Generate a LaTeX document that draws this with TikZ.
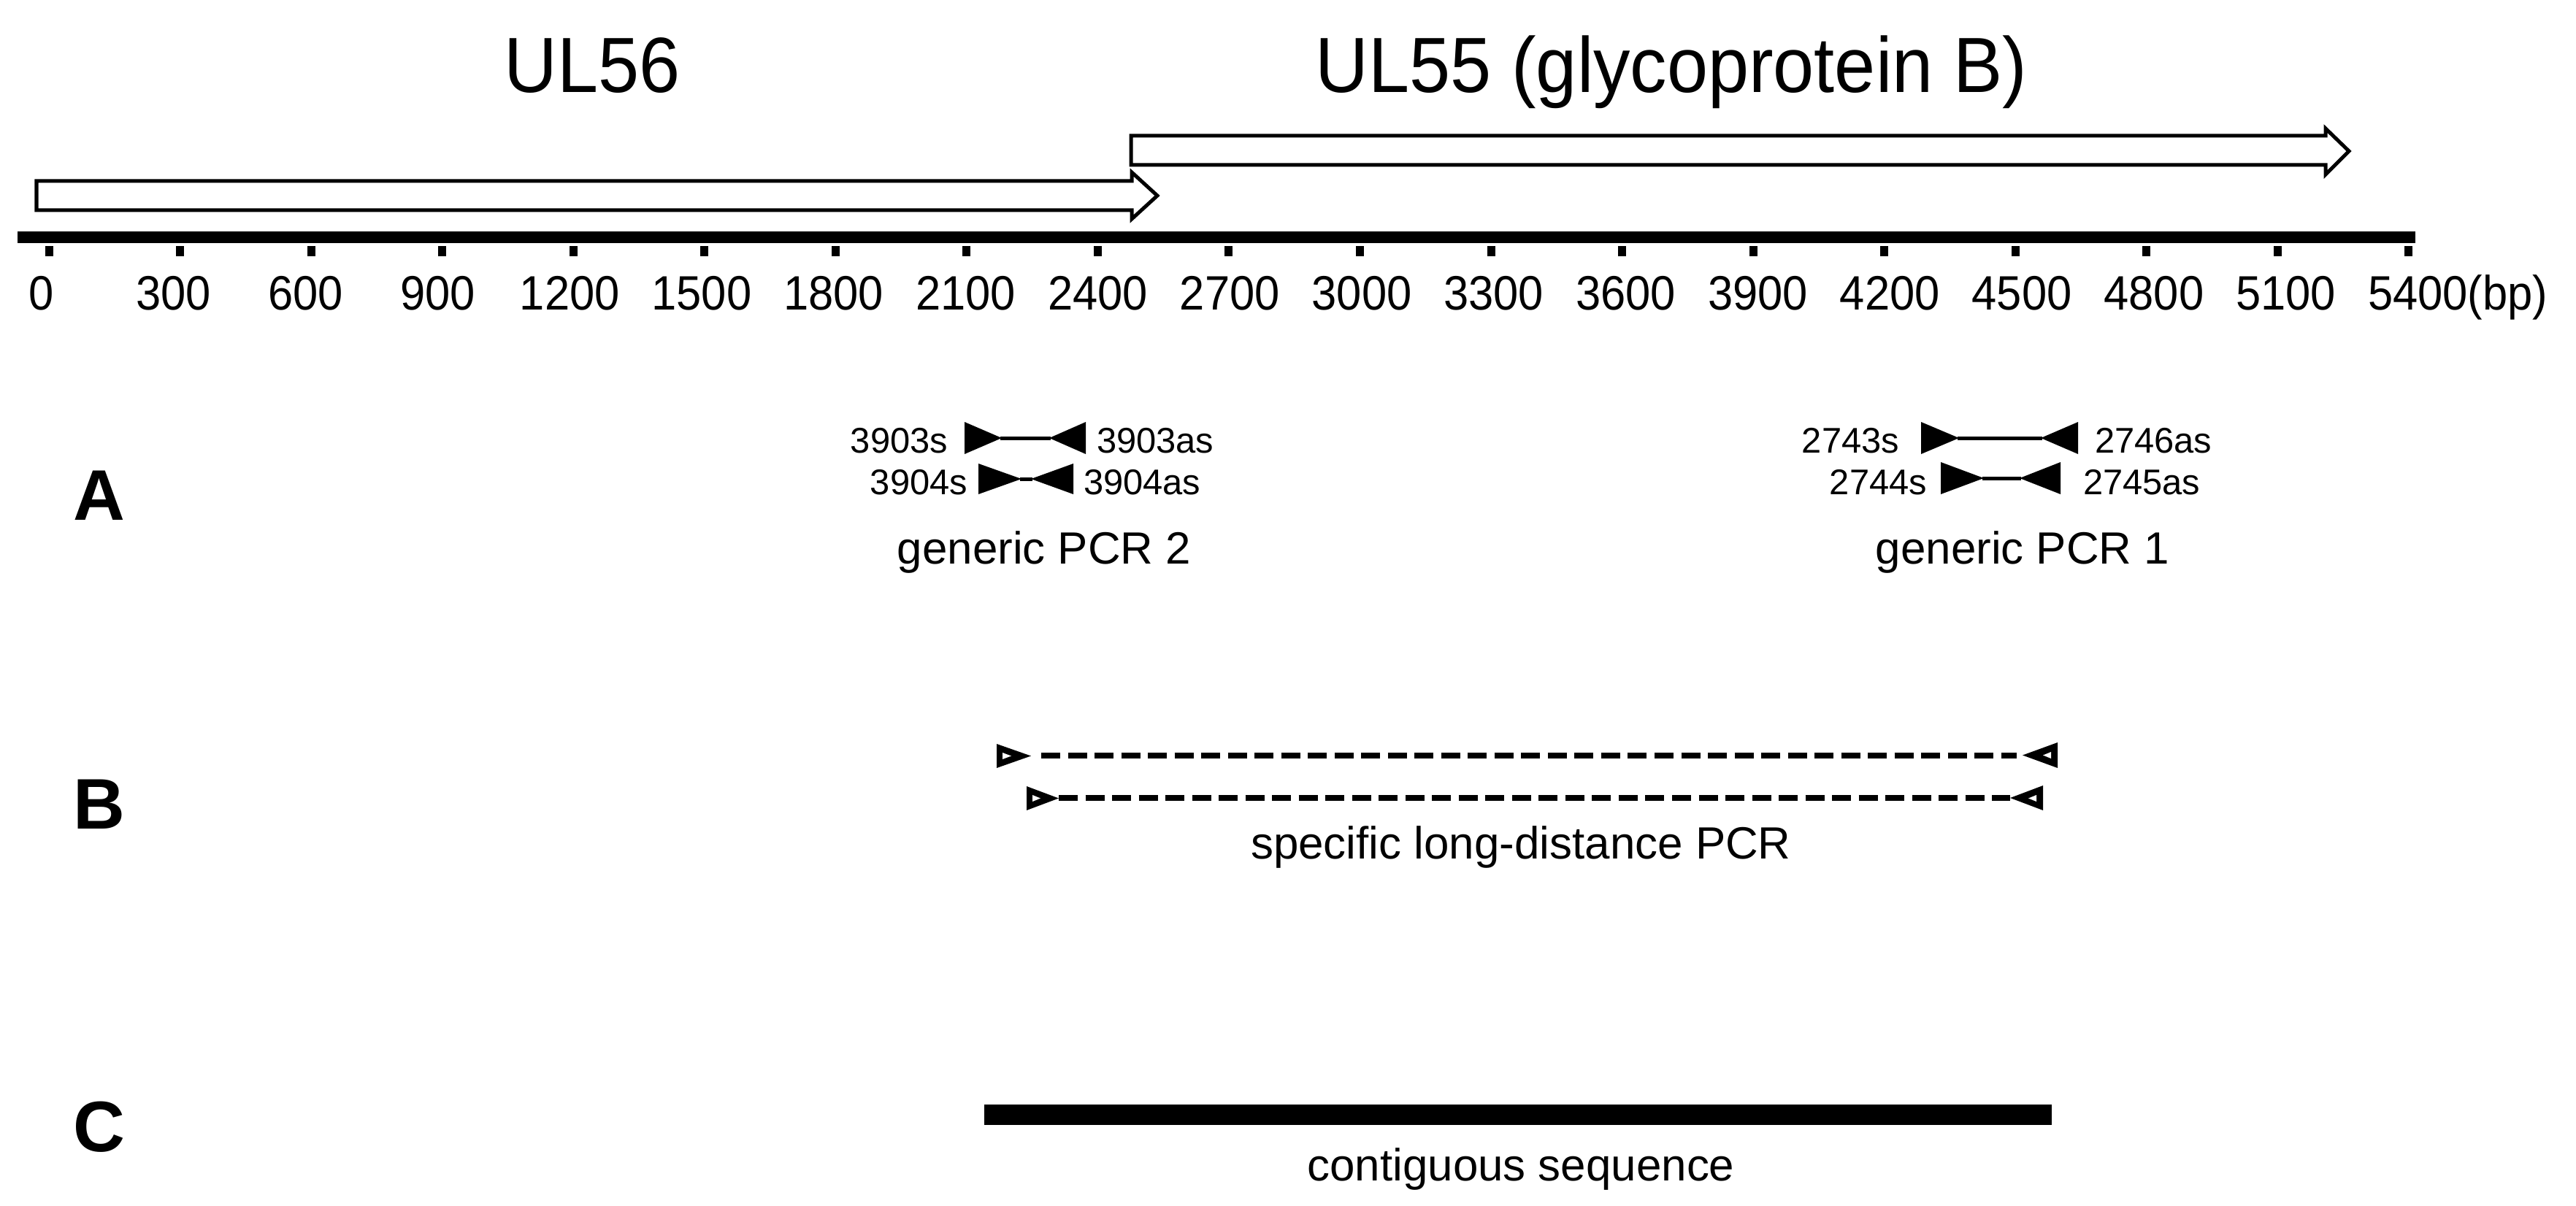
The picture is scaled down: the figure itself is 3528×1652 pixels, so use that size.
\documentclass[tikz,border=0pt]{standalone}
\usepackage{fontspec}
\setmainfont{Liberation Sans}
\newfontfamily\titlefont[FakeStretch=0.94]{Liberation Sans}
\newfontfamily\tickfont[FakeStretch=0.93]{Liberation Sans}
\begin{document}
\begin{tikzpicture}[x=0.01cm,y=-0.01cm,
  lbl/.style={inner sep=0pt, outer sep=0pt},
  titlelbl/.style={lbl, anchor=base, font=\titlefont\fontsize{30.5}{36}\selectfont},
  ticklbl/.style={lbl, anchor=base, font=\tickfont\fontsize{18.8}{22}\selectfont},
  primerlbl/.style={lbl, font=\fontsize{13.9}{16}\selectfont},
  pcrlbl/.style={lbl, anchor=base, font=\fontsize{17.6}{21}\selectfont},
  sectionlbl/.style={lbl, anchor=base, font=\bfseries\fontsize{27.9}{33}\selectfont},
  genearrow/.style={draw=black, fill=white, line width=0.05cm, line join=miter},
  primerlink/.style={line width=0.05cm},
  longpcr/.style={line width=0.08cm, dash pattern=on 0.26cm off 0.105cm}
]
\useasboundingbox (0,0) rectangle (3528,1652);

% gene titles
\node[titlelbl] (ul56) at (811,127) {UL56};
\node[titlelbl] (ul55) at (2289,127) {UL55 (glycoprotein B)};

% gene arrows
\draw[genearrow] (50,248) -- (1550,248) -- (1550,236) -- (1585,268) -- (1550,300)
  -- (1550,288) -- (50,288) -- cycle;
\draw[genearrow] (1549,186) -- (3185,186) -- (3185,176) -- (3217,207) -- (3185,239)
  -- (3185,226) -- (1549,226) -- cycle;

% axis
\fill (24,317) rectangle (3308,333);
\foreach \v [count=\i from 0] in {0,300,...,5400} {
  \fill ({67+179.55*\i-5.5},337) rectangle ({67+179.55*\i+5.5},351);
  \node[ticklbl] (t\v) at ({57+180.8*\i},425) {\v};
}
\node[ticklbl, anchor=base west] (bp) at (t5400.base east) {(bp)};

% section letters
\node[sectionlbl] (secA) at (136,712) {A};
\node[sectionlbl] (secB) at (136,1135) {B};
\node[sectionlbl] (secC) at (136,1577) {C};

% ---- A: generic PCR 2
\fill (1321,578) -- (1321,622) -- (1372,600) -- cycle;
\fill (1487,578) -- (1487,622) -- (1437,600) -- cycle;
\coordinate (p3903s) at (1370,600);
\coordinate (p3903as) at (1439,600);
\draw[primerlink] (p3903s) -- (p3903as);
\fill (1340,635) -- (1340,677) -- (1399,656) -- cycle;
\fill (1470,635) -- (1470,677) -- (1412,656) -- cycle;
\coordinate (p3904s) at (1397,656);
\coordinate (p3904as) at (1414,656);
\draw[primerlink] (p3904s) -- (p3904as);
\node[primerlbl, anchor=base east] (l3903s) at (1298,620) {3903s};
\node[primerlbl, anchor=base west] (l3903as) at (1502,620) {3903as};
\node[primerlbl, anchor=base east] (l3904s) at (1325,677) {3904s};
\node[primerlbl, anchor=base west] (l3904as) at (1484,677) {3904as};
\node[pcrlbl] (gpcr2) at (1430,772) {generic PCR 2};

% ---- A: generic PCR 1
\fill (2631,578) -- (2631,622) -- (2683,600) -- cycle;
\fill (2846,578) -- (2846,622) -- (2795,600) -- cycle;
\coordinate (p2743s) at (2681,600);
\coordinate (p2746as) at (2797,600);
\draw[primerlink] (p2743s) -- (p2746as);
\fill (2658,633) -- (2658,677) -- (2717,655) -- cycle;
\fill (2822,633) -- (2822,677) -- (2766,655) -- cycle;
\coordinate (p2744s) at (2715,655);
\coordinate (p2745as) at (2768,655);
\draw[primerlink] (p2744s) -- (p2745as);
\node[primerlbl, anchor=base east] (l2743s) at (2601,620) {2743s};
\node[primerlbl, anchor=base west] (l2746as) at (2869,620) {2746as};
\node[primerlbl, anchor=base east] (l2744s) at (2639,677) {2744s};
\node[primerlbl, anchor=base west] (l2745as) at (2853,677) {2745as};
\node[pcrlbl] (gpcr1) at (2770,772) {generic PCR 1};

% ---- B: specific long-distance PCR
\fill (1365,1019) -- (1365,1052) -- (1412,1035.5) -- cycle;
\fill[white] (1373,1031) -- (1373,1040) -- (1385,1035.5) -- cycle;
\fill (2818,1017) -- (2818,1052) -- (2770,1034.5) -- cycle;
\fill[white] (2809,1030) -- (2809,1039) -- (2798,1034.5) -- cycle;
\coordinate (bs1) at (1426,1035);
\coordinate (be1) at (2762,1035);
\draw[longpcr] (bs1) -- (be1);
\fill (1406,1077) -- (1406,1110) -- (1450,1093.5) -- cycle;
\fill[white] (1414,1089) -- (1414,1098) -- (1425,1093.5) -- cycle;
\fill (2798,1076) -- (2798,1110) -- (2753,1093) -- cycle;
\fill[white] (2789,1089) -- (2789,1098) -- (2778,1093.5) -- cycle;
\coordinate (bs2) at (1450,1093);
\coordinate (be2) at (2753,1093);
\draw[longpcr] (bs2) -- (be2);
\node[pcrlbl] (lpcr) at (2083,1176) {specific long-distance PCR};

% ---- C: contiguous sequence
\fill (1348,1513) rectangle (2810,1541);
\node[pcrlbl] (contig) at (2083,1617) {contiguous sequence};
\end{tikzpicture}
\end{document}
